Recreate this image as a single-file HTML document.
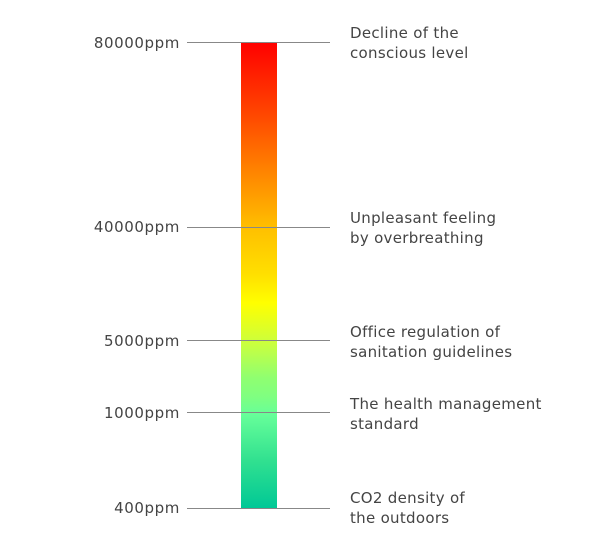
<!DOCTYPE html>
<html><head><style>
body{margin:0;width:600px;height:560px;background:#fff;position:relative;font-family:"DejaVu Sans","Liberation Sans",sans-serif;color:#444;overflow:hidden}
.bar{position:absolute;left:241px;top:42px;width:36px;height:466px;background:linear-gradient(to bottom,#ff0000 0%,#ff4400 15%,#ff8000 27%,#ffc000 40%,#ffe000 50%,#ffff00 56%,#c8ff40 65%,#90ff70 72%,#80ff80 76%,#66ff99 80%,#30e090 90%,#00c896 100%)}
.ln{position:absolute;left:187px;width:143px;height:1px;background:#888}
.l{position:absolute;right:420px;font-size:15px;letter-spacing:0.6px;line-height:18px;text-align:right;white-space:nowrap}
.r{position:absolute;left:350px;font-size:15px;letter-spacing:0.3px;line-height:20px;white-space:nowrap}
</style></head><body>
<div class="bar"></div>
<div class="ln" style="top:42px"></div>
<div class="ln" style="top:227px"></div>
<div class="ln" style="top:340px"></div>
<div class="ln" style="top:412px"></div>
<div class="ln" style="top:508px"></div>
<div class="l" style="top:34px">80000ppm</div>
<div class="l" style="top:218px">40000ppm</div>
<div class="l" style="top:332px">5000ppm</div>
<div class="l" style="top:404px">1000ppm</div>
<div class="l" style="top:499px">400ppm</div>
<div class="r" style="top:23px">Decline of the<br>conscious level</div>
<div class="r" style="top:208px">Unpleasant feeling<br>by overbreathing</div>
<div class="r" style="top:322px">Office regulation of<br>sanitation guidelines</div>
<div class="r" style="top:394px">The health management<br>standard</div>
<div class="r" style="top:488px">CO2 density of<br>the outdoors</div>
</body></html>
